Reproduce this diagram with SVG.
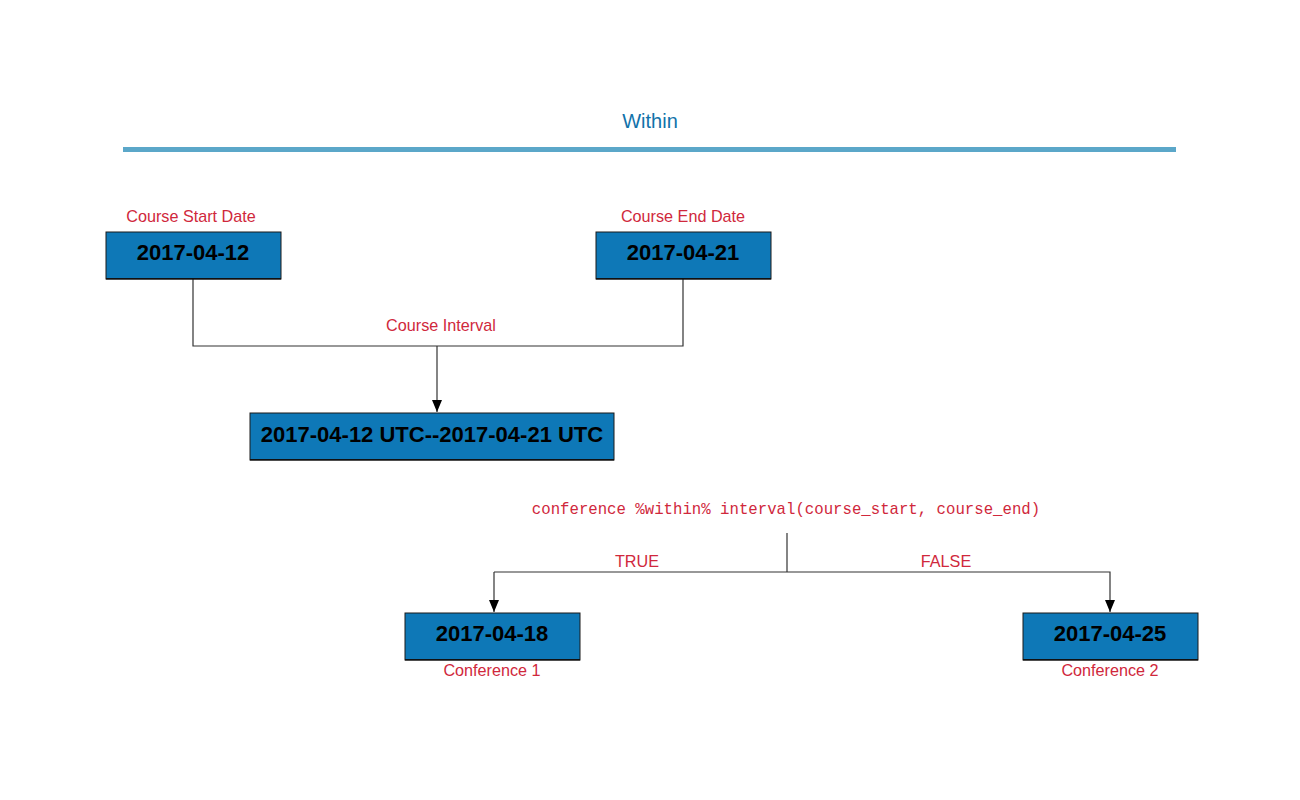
<svg xmlns="http://www.w3.org/2000/svg" width="1300" height="800" viewBox="0 0 1300 800">
<defs>
<style>
.box{fill:#0e78b7;stroke:#1a1a1a;stroke-width:1}
.shadow{fill:#111}
.bt{font-family:"Liberation Sans",Arial,sans-serif;font-weight:bold;font-size:22px;fill:#000;text-anchor:middle}
.lbl{font-family:"Liberation Sans",Arial,sans-serif;font-size:16.2px;fill:#d0283c;text-anchor:middle}
.code{font-family:"Liberation Mono","Courier New",monospace;font-size:15.7px;fill:#d0283c;text-anchor:middle}
.ln{fill:none;stroke:#333;stroke-width:1.2}
</style>
<marker id="arr" viewBox="0 0 12 10" refX="12" refY="5" markerWidth="12" markerHeight="10" markerUnits="userSpaceOnUse" orient="auto">
<path d="M0,0 L12,5 L0,10 Z" fill="#000"/>
</marker>
</defs>
<rect width="1300" height="800" fill="#fff"/>
<g id="title">
<text x="650" y="128" font-family="Liberation Sans,Arial,sans-serif" font-size="20" fill="#1172aa" text-anchor="middle">Within</text>
<rect x="123" y="147" width="1053" height="5" fill="#5ba7c9"/>
</g>
<g id="connectors">
<polyline class="ln" points="193,279 193,346 683,346 683,279"/>
<line class="ln" x1="437" y1="346" x2="437" y2="412" marker-end="url(#arr)"/>
<line class="ln" x1="787" y1="533" x2="787" y2="572"/>
<polyline class="ln" points="494,572 1110,572 1110,612" marker-end="url(#arr)"/>
<line class="ln" x1="494" y1="572" x2="494" y2="612" marker-end="url(#arr)"/>
<text class="lbl" x="441" y="331">Course Interval</text>
<text class="lbl" x="637" y="567">TRUE</text>
<text class="lbl" x="946" y="567">FALSE</text>
<text class="code" x="786" y="514">conference %within% interval(course_start, course_end)</text>
</g>
<g id="start">
<text class="lbl" x="191" y="222">Course Start Date</text>
<rect class="box" x="106" y="232" width="175" height="47"/>
<rect class="shadow" x="106" y="278" width="175" height="1.5"/>
<text class="bt" x="193" y="260">2017-04-12</text>
</g>
<g id="end">
<text class="lbl" x="683" y="222">Course End Date</text>
<rect class="box" x="596" y="232" width="175" height="47"/>
<rect class="shadow" x="596" y="278" width="175" height="1.5"/>
<text class="bt" x="683" y="260">2017-04-21</text>
</g>
<g id="interval">
<rect class="box" x="250" y="413" width="364" height="47"/>
<rect class="shadow" x="250" y="459" width="364" height="1.5"/>
<text class="bt" x="432" y="442">2017-04-12 UTC--2017-04-21 UTC</text>
</g>
<g id="conf1">
<rect class="box" x="405" y="613" width="175" height="47"/>
<rect class="shadow" x="405" y="659" width="175" height="1.5"/>
<text class="bt" x="492" y="641">2017-04-18</text>
<text class="lbl" x="492" y="676">Conference 1</text>
</g>
<g id="conf2">
<rect class="box" x="1023" y="613" width="175" height="47"/>
<rect class="shadow" x="1023" y="659" width="175" height="1.5"/>
<text class="bt" x="1110" y="641">2017-04-25</text>
<text class="lbl" x="1110" y="676">Conference 2</text>
</g>
</svg>
